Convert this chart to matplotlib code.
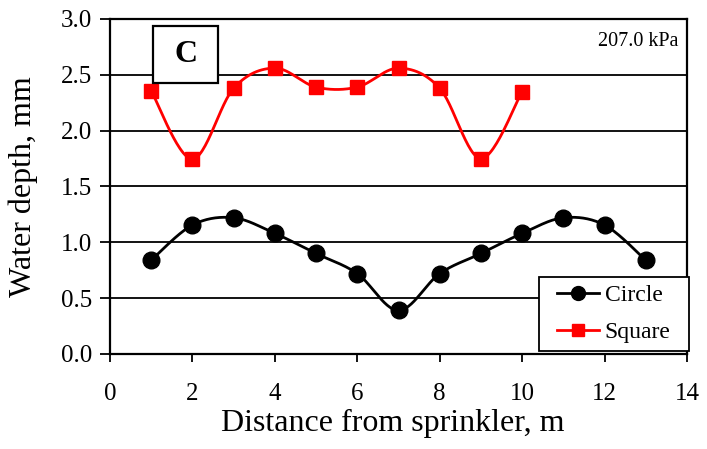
import numpy as np
import matplotlib
matplotlib.use("Agg")
import matplotlib.pyplot as plt
from matplotlib.patches import Rectangle

circle_x = [1, 2, 3, 4, 5, 6, 7, 8, 9, 10, 11, 12, 13]
circle_y = [0.84, 1.155, 1.22, 1.08, 0.90, 0.72, 0.39, 0.72, 0.90, 1.08, 1.22, 1.155, 0.84]
square_x = [1, 2, 3, 4, 5, 6, 7, 8, 9, 10]
square_y = [2.355, 1.746, 2.38, 2.56, 2.39, 2.39, 2.56, 2.38, 1.75, 2.35]
xticks = [0, 2, 4, 6, 8, 10, 12, 14]
yticks = [0.0, 0.5, 1.0, 1.5, 2.0, 2.5, 3.0]


def smooth(x, y, n=30):
    x = np.asarray(x, float); y = np.asarray(y, float)
    xs, ys = [], []
    for i in range(len(x) - 1):
        p0 = np.array([x[max(i - 1, 0)], y[max(i - 1, 0)]])
        p1 = np.array([x[i], y[i]])
        p2 = np.array([x[i + 1], y[i + 1]])
        p3 = np.array([x[min(i + 2, len(x) - 1)], y[min(i + 2, len(x) - 1)]])
        c1 = p1 + (p2 - p0) / 6
        c2 = p2 - (p3 - p1) / 6
        t = np.linspace(0, 1, n)[:, None]
        pts = (1 - t) ** 3 * p1 + 3 * (1 - t) ** 2 * t * c1 + 3 * (1 - t) * t ** 2 * c2 + t ** 3 * p2
        xs.extend(pts[:, 0]); ys.extend(pts[:, 1])
    return xs, ys


plt.rcParams['font.family'] = ['Liberation Serif', 'DejaVu Serif']
fig = plt.figure(figsize=(7.07, 4.49), dpi=100)
ax = fig.add_axes([0.1556, 0.2116, 0.8161, 0.7461])

for y in yticks:
    ax.axhline(y, color='black', lw=1.3, zorder=1)

cx, cy = smooth(circle_x, circle_y)
ax.plot(cx, cy, color='black', lw=2, zorder=2)
ax.plot(circle_x, circle_y, 'o', color='black', ms=12, zorder=3)
sx, sy = smooth(square_x, square_y)
ax.plot(sx, sy, color='red', lw=2, zorder=2)
ax.plot(square_x, square_y, 's', color='red', ms=10, zorder=3)

# legend frame
ax.add_patch(Rectangle((0.7435, 0.009), 0.26, 0.221, transform=ax.transAxes,
                       fc='white', ec='black', lw=1.3, zorder=5, clip_on=False))
h1, = ax.plot([], [], '-o', color='black', lw=2, ms=10, label='Circle')
h2, = ax.plot([], [], '-s', color='red', lw=2, ms=9, label='Square')
leg = ax.legend(handles=[h1, h2], loc='center', bbox_to_anchor=(0.8735, 0.1194), fontsize=17,
                frameon=False, handlelength=1.75, handletextpad=0.25, labelspacing=0.65,
                borderpad=0.3, borderaxespad=0)
leg.set_zorder(6)

ax.set_xlim(0, 14)
ax.set_ylim(0, 3.0)
ax.set_xticks(xticks)
ax.set_yticks(yticks)
ax.set_yticklabels([f"{v:.1f}" for v in yticks])
ax.tick_params(labelsize=18, direction='out', length=7, width=1.3, colors='black', pad=6)
ax.tick_params(axis='x', length=6, pad=15)
for s in ax.spines.values():
    s.set_linewidth(1.6)
    s.set_color('black')
ax.set_xlabel('Distance from sprinkler, m', fontsize=23)
ax.set_ylabel('Water depth, mm', fontsize=23)
ax.xaxis.set_label_coords(0.4905, -0.164)
ax.yaxis.set_label_coords(-0.124, 0.5)

ax.add_patch(Rectangle((0.0745, 0.809), 0.1127, 0.170, transform=ax.transAxes,
                       fc='white', ec='black', lw=1.6, zorder=4))
ax.text(0.0745 + 0.1127 / 2, 0.809 + 0.085, 'C', transform=ax.transAxes, fontsize=23,
        fontweight='bold', ha='center', va='center', zorder=5)
ax.text(13.8, 2.8, '207.0 kPa', fontsize=14.5, ha='right', va='center')

fig.savefig('out.png', dpi=100)
